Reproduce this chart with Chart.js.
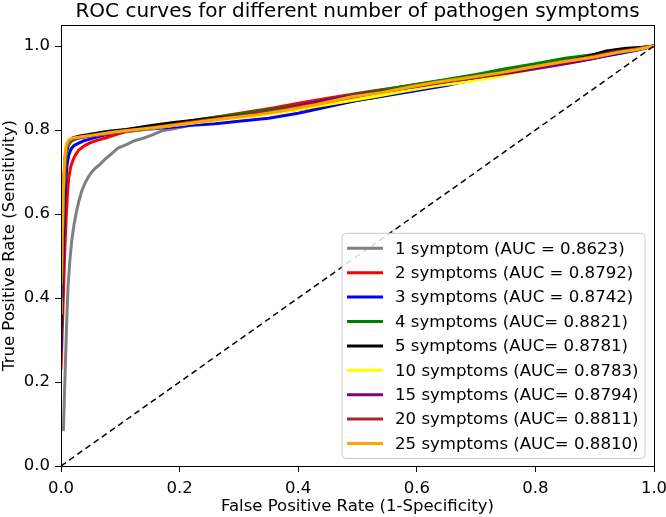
<!DOCTYPE html>
<html>
<head>
<meta charset="utf-8">
<script src="https://cdn.jsdelivr.net/npm/chart.js@4.4.0/dist/chart.umd.min.js"></script>
<style>
html,body{margin:0;padding:0;background:#fff;}
canvas{display:block;}
</style>
</head>
<body>
<canvas id="c" width="666" height="517"></canvas>
<script>
// ---- Data ----
const chartTitle = 'ROC curves for different number of pathogen symptoms';
const labels = [
  "1 symptom (AUC = 0.8623)",
  "2 symptoms (AUC = 0.8792)",
  "3 symptoms (AUC = 0.8742)",
  "4 symptoms (AUC= 0.8821)",
  "5 symptoms (AUC= 0.8781)",
  "10 symptoms (AUC= 0.8783)",
  "15 symptoms (AUC= 0.8794)",
  "20 symptoms (AUC= 0.8811)",
  "25 symptoms (AUC= 0.8810)"
];
const colors = ["#808080","#ff0000","#0000ff","#008000","#000000","#ffff00","#800080","#a52a2a","#ffa500"];

const fpr1 = [0.004,0.006,0.008,0.010,0.012,0.015,0.018,0.022,0.026,0.030,0.035,0.041,0.046,0.052,0.057,0.064,0.074,0.084,0.096,0.11,0.125,0.14,0.155,0.17,0.19,0.21,0.243,0.28,0.33,0.39,0.45,0.52,0.58,0.64,0.7,0.76,0.82,0.88,0.93,0.97,1.0];
const tpr1 = [0.083,0.18,0.27,0.36,0.43,0.49,0.535,0.575,0.605,0.63,0.655,0.675,0.688,0.7,0.708,0.716,0.73,0.742,0.757,0.765,0.775,0.781,0.789,0.798,0.803,0.809,0.82,0.83,0.842,0.857,0.869,0.886,0.899,0.913,0.927,0.94,0.954,0.967,0.98,0.99,1.0];

const fpr2 = [0,0.003,0.006,0.009,0.011,0.013,0.016,0.02,0.025,0.03,0.04,0.05,0.062,0.075,0.09,0.11,0.14,0.18,0.22,0.27,0.31,0.36,0.41,0.46,0.52,0.57,0.63,0.69,0.75,0.81,0.87,0.92,0.96,1.0];
const tpr2 = [0.23,0.36,0.5,0.6,0.65,0.685,0.71,0.728,0.742,0.752,0.763,0.77,0.776,0.781,0.788,0.796,0.802,0.812,0.822,0.833,0.842,0.853,0.866,0.878,0.892,0.902,0.915,0.927,0.94,0.953,0.966,0.978,0.988,1.0];

const fpr3 = [0,0.002,0.004,0.006,0.008,0.01,0.013,0.017,0.022,0.029,0.038,0.05,0.065,0.085,0.11,0.14,0.18,0.22,0.26,0.3,0.35,0.4,0.45,0.5,0.55,0.6,0.65,0.7,0.76,0.82,0.88,0.93,0.97,1.0];
const tpr3 = [0.27,0.4,0.52,0.62,0.68,0.715,0.74,0.755,0.763,0.768,0.774,0.779,0.785,0.792,0.797,0.801,0.806,0.811,0.815,0.821,0.828,0.84,0.855,0.871,0.882,0.894,0.906,0.922,0.937,0.952,0.966,0.979,0.99,1.0];

const fpr4 = [0,0.002,0.004,0.006,0.008,0.01,0.013,0.017,0.022,0.03,0.045,0.065,0.09,0.12,0.16,0.2,0.24,0.29,0.34,0.39,0.44,0.5,0.55,0.6,0.65,0.7,0.75,0.8,0.85,0.9,0.94,0.97,1.0];
const tpr4 = [0.31,0.45,0.58,0.67,0.72,0.75,0.765,0.773,0.777,0.781,0.785,0.79,0.797,0.802,0.809,0.817,0.826,0.836,0.846,0.856,0.869,0.886,0.897,0.909,0.92,0.932,0.946,0.958,0.971,0.98,0.987,0.992,1.0];

const fpr5 = [0,0.002,0.004,0.006,0.008,0.011,0.015,0.02,0.03,0.05,0.08,0.11,0.15,0.19,0.23,0.28,0.33,0.38,0.43,0.48,0.53,0.58,0.63,0.68,0.73,0.78,0.83,0.88,0.92,0.95,0.98,1.0];
const tpr5 = [0.33,0.48,0.6,0.69,0.74,0.765,0.776,0.781,0.785,0.79,0.797,0.801,0.81,0.818,0.824,0.831,0.838,0.846,0.855,0.866,0.878,0.893,0.905,0.915,0.93,0.942,0.957,0.972,0.988,0.994,0.997,1.0];

const fpr10 = [0,0.002,0.004,0.007,0.01,0.015,0.025,0.045,0.07,0.1,0.14,0.18,0.23,0.28,0.33,0.38,0.43,0.48,0.53,0.58,0.63,0.68,0.73,0.78,0.83,0.88,0.93,0.97,1.0];
const tpr10 = [0.36,0.52,0.65,0.73,0.762,0.775,0.78,0.785,0.79,0.796,0.801,0.809,0.818,0.826,0.834,0.844,0.856,0.868,0.88,0.893,0.905,0.914,0.925,0.94,0.955,0.969,0.983,0.992,1.0];

const fpr15 = [0,0.002,0.004,0.007,0.01,0.015,0.025,0.045,0.07,0.1,0.14,0.18,0.23,0.28,0.33,0.38,0.42,0.46,0.51,0.56,0.61,0.66,0.71,0.76,0.81,0.86,0.9,0.94,0.97,1.0];
const tpr15 = [0.4,0.54,0.66,0.735,0.764,0.775,0.78,0.785,0.79,0.796,0.802,0.81,0.82,0.829,0.839,0.851,0.864,0.874,0.885,0.895,0.906,0.917,0.927,0.937,0.948,0.96,0.971,0.985,0.993,1.0];

const fpr20 = [0,0.002,0.004,0.007,0.01,0.015,0.025,0.045,0.07,0.1,0.14,0.18,0.23,0.28,0.33,0.38,0.43,0.48,0.53,0.58,0.63,0.68,0.73,0.78,0.83,0.88,0.93,0.97,1.0];
const tpr20 = [0.39,0.53,0.66,0.735,0.765,0.776,0.781,0.786,0.791,0.797,0.803,0.811,0.821,0.83,0.839,0.85,0.862,0.875,0.888,0.9,0.911,0.921,0.933,0.946,0.959,0.971,0.985,0.993,1.0];

const fpr25 = [0,0.002,0.004,0.006,0.009,0.013,0.02,0.035,0.06,0.09,0.12,0.16,0.2,0.24,0.28,0.33,0.38,0.43,0.49,0.54,0.59,0.63,0.68,0.74,0.79,0.85,0.9,0.94,0.97,1.0];
const tpr25 = [0.43,0.55,0.66,0.73,0.765,0.776,0.781,0.784,0.789,0.795,0.8,0.806,0.813,0.821,0.828,0.836,0.847,0.86,0.879,0.889,0.903,0.913,0.923,0.936,0.949,0.963,0.974,0.985,0.991,1.0];

const chanceX = [0, 1];
const chanceY = [0, 1];

const xTicks = [0, 0.2, 0.4, 0.6, 0.8, 1.0];
const yTicks = [0, 0.2, 0.4, 0.6, 0.8, 1.0];

const seriesX = [fpr1, fpr2, fpr3, fpr4, fpr5, fpr10, fpr15, fpr20, fpr25];
const seriesY = [tpr1, tpr2, tpr3, tpr4, tpr5, tpr10, tpr15, tpr20, tpr25];

// ---- Build chart ----
const FONT = "'DejaVu Sans', 'Liberation Sans', sans-serif";
Chart.defaults.font.family = FONT;
Chart.defaults.color = '#000';

const toPts = (xs, ys) => xs.map((x, i) => ({x: x, y: ys[i]}));

const datasets = [{
  label: '_chance',
  data: toPts(chanceX, chanceY),
  borderColor: '#000',
  borderWidth: 1.5,
  borderDash: [6, 4],
  pointRadius: 0,
  showLine: true,
  clip: 0,
  order: 0
}];
labels.forEach((lab, i) => {
  datasets.push({
    label: lab,
    data: toPts(seriesX[i], seriesY[i]),
    borderColor: colors[i],
    backgroundColor: colors[i],
    borderWidth: 3,
    pointRadius: 0,
    showLine: true,
    tension: 0,
    clip: 0,
    order: labels.length - i
  });
});

const framePlugin = {
  id: 'frame',
  afterDatasetsDraw(chart) {
    const {ctx, chartArea: a} = chart;
    ctx.save();
    ctx.strokeStyle = '#000';
    ctx.lineWidth = 1;
    ctx.strokeRect(Math.round(a.left) + 0.5, Math.round(a.top) + 0.5, Math.round(a.right - a.left), Math.round(a.bottom - a.top));
    ctx.restore();
  }
};

const titlePlugin = {
  id: 'axTitle',
  afterDraw(chart) {
    const {ctx, chartArea: a} = chart;
    ctx.save();
    ctx.font = "20px " + FONT;
    ctx.fillStyle = '#000';
    ctx.textAlign = 'center';
    ctx.textBaseline = 'middle';
    ctx.fillText(chartTitle, (a.left + a.right) / 2, 12);
    ctx.restore();
  }
};

const legendPlugin = {
  id: 'innerLegend',
  afterDraw(chart) {
    const {ctx, chartArea: a} = chart;
    const items = chart.data.datasets.filter(d => !d.label.startsWith('_'));
    const rowH = 24.4, padV = 15;
    const right = a.right - 9, bottom = a.bottom - 7.5;
    const left = 342;
    const h = (items.length - 1) * rowH + 2 * padV;
    const top = bottom - h;
    ctx.save();
    const r = 4;
    ctx.beginPath();
    ctx.moveTo(left + r, top);
    ctx.lineTo(right - r, top);
    ctx.quadraticCurveTo(right, top, right, top + r);
    ctx.lineTo(right, bottom - r);
    ctx.quadraticCurveTo(right, bottom, right - r, bottom);
    ctx.lineTo(left + r, bottom);
    ctx.quadraticCurveTo(left, bottom, left, bottom - r);
    ctx.lineTo(left, top + r);
    ctx.quadraticCurveTo(left, top, left + r, top);
    ctx.closePath();
    ctx.fillStyle = 'rgba(255,255,255,0.85)';
    ctx.fill();
    ctx.strokeStyle = '#cccccc';
    ctx.lineWidth = 1;
    ctx.stroke();
    ctx.font = "16.6px " + FONT;
    ctx.textBaseline = 'middle';
    ctx.textAlign = 'left';
    items.forEach((d, i) => {
      const y = top + padV + i * rowH;
      ctx.strokeStyle = d.borderColor;
      ctx.lineWidth = 3;
      ctx.beginPath();
      ctx.moveTo(left + 5, y);
      ctx.lineTo(left + 41, y);
      ctx.stroke();
      ctx.fillStyle = '#000';
      ctx.fillText(d.label, left + 53, y + 1);
    });
    ctx.restore();
  }
};

new Chart(document.getElementById('c'), {
  type: 'scatter',
  data: {datasets},
  options: {
    responsive: false,
    animation: false,
    devicePixelRatio: 1,
    layout: {padding: {left: 0, right: 12, top: 25, bottom: 0}},
    plugins: {
      legend: {display: false},
      tooltip: {enabled: false},
      title: {display: false}
    },
    scales: {
      x: {
        type: 'linear',
        min: 0, max: 1,
        afterBuildTicks: s => { s.ticks = xTicks.map(v => ({value: v})); },
        afterFit: s => { s.height = 51; s.paddingLeft = 0; s.paddingRight = 0; },
        ticks: {font: {size: 16.5}, color: '#000', padding: 7, maxRotation: 0, callback: v => Number(v).toFixed(1)},
        grid: {drawOnChartArea: false, drawTicks: true, tickLength: 6, tickColor: '#000'},
        border: {display: true, color: '#000', width: 1},
        title: {display: true, text: 'False Positive Rate (1-Specificity)', font: {size: 16.5}, color: '#000', padding: {top: 0, bottom: 0}}
      },
      y: {
        type: 'linear',
        min: 0, max: 1.05,
        afterBuildTicks: s => { s.ticks = yTicks.map(v => ({value: v})); },
        afterFit: s => { s.width = 61; s.paddingTop = 0; s.paddingBottom = 0; },
        ticks: {font: {size: 16.5}, color: '#000', padding: 5, callback: v => Number(v).toFixed(1)},
        grid: {drawOnChartArea: false, drawTicks: true, tickLength: 6, tickColor: '#000'},
        border: {display: true, color: '#000', width: 1},
        title: {display: true, text: 'True Positive Rate (Sensitivity)', font: {size: 16.5}, color: '#000', padding: {top: 0, bottom: 0}}
      }
    }
  },
  plugins: [framePlugin, titlePlugin, legendPlugin]
});
</script>
</body>
</html>
